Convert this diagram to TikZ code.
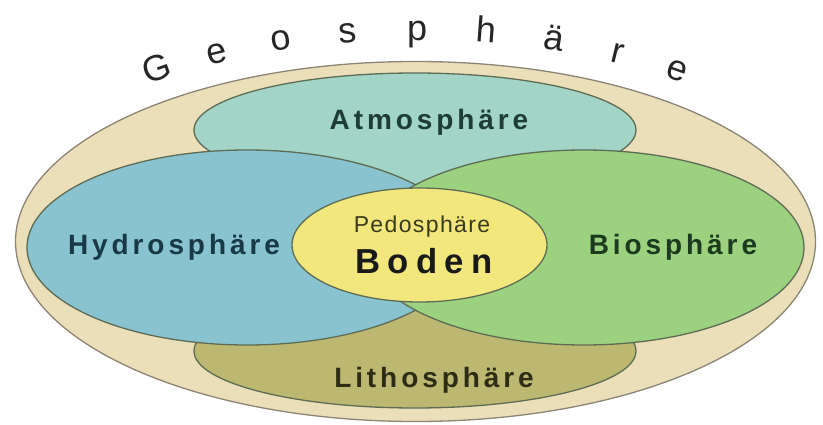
\documentclass[tikz,border=0pt]{standalone}
\usepackage{fontspec}
\setmainfont{Liberation Sans}
\usetikzlibrary{shapes.geometric}

\definecolor{geofill}{HTML}{EADFB8}
\definecolor{geoline}{HTML}{8C8575}
\definecolor{atmofill}{HTML}{A2D5C7}
\definecolor{hydrofill}{HTML}{88C3CF}
\definecolor{biofill}{HTML}{9CD17F}
\definecolor{lithofill}{HTML}{BDB871}
\definecolor{pedofill}{HTML}{F1E77C}
\definecolor{sphereline}{HTML}{5E6C55}
\definecolor{atmotext}{HTML}{1D3D36}
\definecolor{hydrotext}{HTML}{173A46}
\definecolor{biotext}{HTML}{1C3A1E}
\definecolor{lithotext}{HTML}{2D2D16}
\definecolor{pedotext}{HTML}{3A3A1C}

\tikzset{
  sphere/.style={ellipse, draw=sphereline, line width=1.3pt, inner sep=0pt},
  spherename/.style={anchor=base, inner sep=0pt, font=\fontsize{28}{30}\selectfont\bfseries\addfontfeature{LetterSpace=14}},
  geoletter/.style={anchor=base, inner sep=0pt, text=black!85, font=\fontsize{36}{38}\selectfont},
}

\begin{document}
\begin{tikzpicture}[x=1pt,y=1pt]
\useasboundingbox (0,0) rectangle (823,424);

% the spheres
\node[sphere, draw=geoline, fill=geofill, minimum width=800, minimum height=360] (geo) at (415.5,182.5) {};
\node[sphere, fill=atmofill, minimum width=442, minimum height=114] (atmo) at (415,294) {};
\node[sphere, fill=lithofill, minimum width=442, minimum height=114] (litho) at (415,73) {};
\node[sphere, fill=hydrofill, minimum width=440, minimum height=195] (hydro) at (247,176.5) {};
\node[sphere, fill=biofill, minimum width=440, minimum height=195] (bio) at (584,176.5) {};
\node[sphere, fill=pedofill, minimum width=255, minimum height=114] (pedo) at (419.5,179) {};

% names
\node[spherename, text=atmotext] (atmolabel) at (429,294) {Atmosphäre};
\node[spherename, text=hydrotext] (hydrolabel) at (174,170) {Hydrosphäre};
\node[spherename, text=biotext] (biolabel) at (673,170) {Biosphäre};
\node[spherename, text=lithotext] (litholabel) at (434,37) {Lithosphäre};
\node[anchor=base, inner sep=0pt, text=pedotext, font=\fontsize{23}{24}\selectfont\addfontfeature{LetterSpace=6}] (pedolabel) at (422,192) {Pedosphäre};
\node[anchor=base, inner sep=0pt, text=black!90, font=\fontsize{34.7}{36}\selectfont\bfseries\addfontfeature{LetterSpace=21}] (boden) at (424,151) {Boden};

% Geosphaere along the arc
\foreach \ch [count=\i from 0] in {G,e,o,s,p,h,ä,r,e} {
  \pgfmathsetmacro\t{126.8-9.175*\i}
  \pgfmathsetmacro\rot{atan2(-201.5*cos(\t),429*sin(\t))}
  \node[geoletter, rotate=\rot] (geo\i) at ({418+429*cos(\t)},{182.5+201.5*sin(\t)}) {\ch};
}
\end{tikzpicture}
\end{document}
